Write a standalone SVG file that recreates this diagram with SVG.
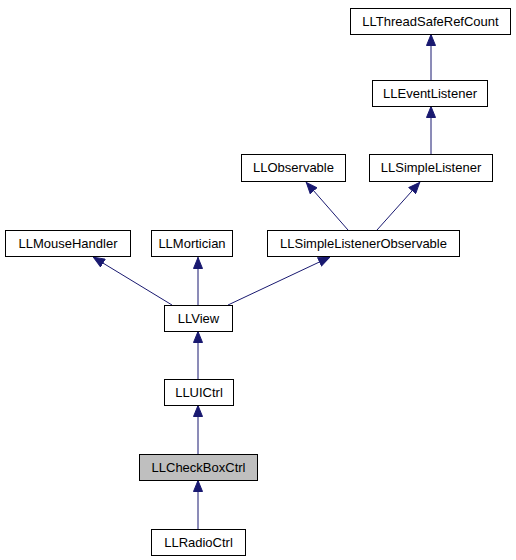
<svg xmlns="http://www.w3.org/2000/svg" width="516" height="560" viewBox="0 0 516 560">
<defs>
<style>
.n rect{fill:#fff;stroke:#000;stroke-width:1}
.n text{font-family:"Liberation Sans",Arial,sans-serif;font-size:13px;text-anchor:middle;fill:#000}
.e line{stroke:#191970;stroke-width:1;marker-end:url(#ah)}
</style>
<marker id="ah" markerUnits="userSpaceOnUse" markerWidth="12" markerHeight="10" viewBox="0 0 12 10" refX="12" refY="5" orient="auto">
<path d="M0.5,0.5 L11.5,5 L0.5,9.5 z" fill="#191970" stroke="#191970"/>
</marker>
</defs>
<rect width="516" height="560" fill="#fff"/>
<g class="e" id="edges">
<line x1="431" y1="81" x2="431" y2="34"/>
<line x1="431" y1="154" x2="431" y2="106"/>
<line x1="348" y1="230" x2="306" y2="182"/>
<line x1="377" y1="230" x2="420" y2="182"/>
<line x1="172" y1="305" x2="93" y2="257"/>
<line x1="198" y1="305" x2="198" y2="257"/>
<line x1="228" y1="305" x2="330" y2="257"/>
<line x1="198" y1="379" x2="198" y2="331"/>
<line x1="198" y1="454" x2="198" y2="405"/>
<line x1="198" y1="529" x2="198" y2="480"/>
</g>
<g class="n" id="LLThreadSafeRefCount"><rect x="350.5" y="8.5" width="160" height="26"/><text x="430.5" y="26">LLThreadSafeRefCount</text></g>
<g class="n" id="LLEventListener"><rect x="372.5" y="80.5" width="115" height="26"/><text x="430" y="98">LLEventListener</text></g>
<g class="n" id="LLObservable"><rect x="241.5" y="154.5" width="104" height="27"/><text x="293.5" y="172">LLObservable</text></g>
<g class="n" id="LLSimpleListener"><rect x="369.5" y="154.5" width="123" height="27"/><text x="431" y="172">LLSimpleListener</text></g>
<g class="n" id="LLMouseHandler"><rect x="5.5" y="230.5" width="125" height="26"/><text x="68" y="248">LLMouseHandler</text></g>
<g class="n" id="LLMortician"><rect x="151.5" y="230.5" width="81" height="26"/><text x="192" y="248">LLMortician</text></g>
<g class="n" id="LLSimpleListenerObservable"><rect x="267.5" y="230.5" width="192" height="26"/><text x="363.5" y="248">LLSimpleListenerObservable</text></g>
<g class="n" id="LLView"><rect x="164.5" y="305.5" width="68" height="26"/><text x="198.5" y="323">LLView</text></g>
<g class="n" id="LLUICtrl"><rect x="164.5" y="379.5" width="69" height="26"/><text x="199" y="397">LLUICtrl</text></g>
<g class="n" id="LLCheckBoxCtrl"><rect x="139.5" y="454.5" width="118" height="26" style="fill:#bfbfbf"/><text x="198.5" y="472">LLCheckBoxCtrl</text></g>
<g class="n" id="LLRadioCtrl"><rect x="151.5" y="529.5" width="94" height="26"/><text x="198.5" y="547">LLRadioCtrl</text></g>
</svg>
